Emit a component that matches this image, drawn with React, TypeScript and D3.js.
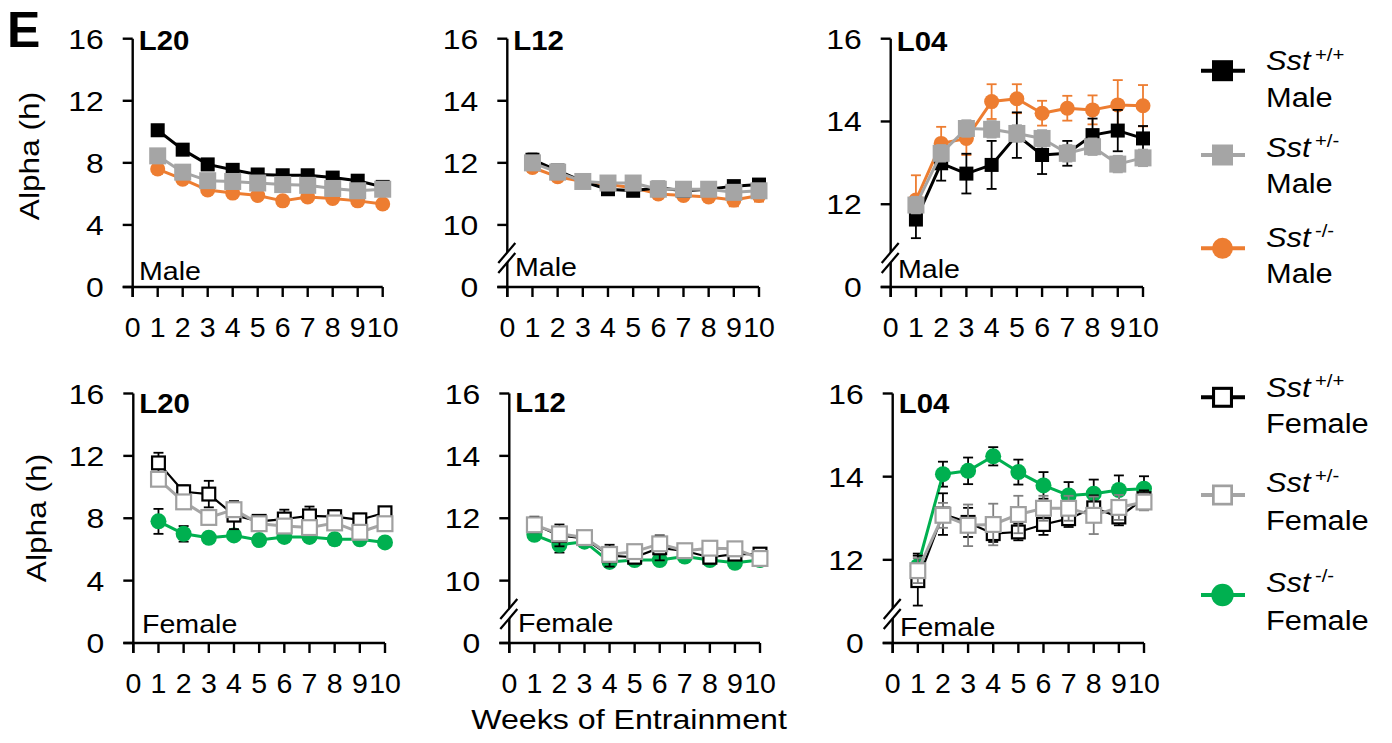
import React from 'react';
import * as d3 from 'd3';

const FONT = '"Liberation Sans", Arial, Helvetica, sans-serif';

const weeks = [1, 2, 3, 4, 5, 6, 7, 8, 9, 10];
const xTickValues = [0, 1, 2, 3, 4, 5, 6, 7, 8, 9, 10];
const xTickLabels = ['0', '1', '2', '3', '4', '5', '6', '7', '8', '9', '10'];
const lightLabels = ['L20', 'L12', 'L04'];
const genotypes = ['+/+', '+/-', '-/-'];
const sexes = ['Male', 'Female'];

// y-axis ticks
const fullTicks = [0, 4, 8, 12, 16];
const fullTickLabels = ['0', '4', '8', '12', '16'];
const l12Ticks = [8, 10, 12, 14, 16];
const l12TickLabels = ['0', '10', '12', '14', '16'];
const l04Ticks = [10, 12, 14, 16];
const l04TickLabels = ['0', '12', '14', '16'];

// ---- Male L20
const maleL20Wt = [10.1, 8.85, 7.9, 7.55, 7.25, 7.2, 7.2, 7.05, 6.85, 6.45];
const maleL20WtErr = [0.35, 0.3, 0.3, 0.25, 0.25, 0.25, 0.25, 0.25, 0.25, 0.25];
const maleL20Het = [8.45, 7.4, 6.85, 6.8, 6.7, 6.6, 6.55, 6.35, 6.2, 6.3];
const maleL20HetErr = [0.3, 0.25, 0.25, 0.25, 0.25, 0.25, 0.25, 0.25, 0.25, 0.25];
const maleL20Ko = [7.6, 6.95, 6.25, 6.05, 5.9, 5.55, 5.8, 5.7, 5.55, 5.35];
const maleL20KoErr = [0.3, 0.25, 0.25, 0.2, 0.2, 0.2, 0.2, 0.2, 0.2, 0.2];

// ---- Male L12
const maleL12Wt = [12.1, 11.75, 11.4, 11.15, 11.1, 11.2, 11.1, 11.15, 11.25, 11.3];
const maleL12WtErr = [0.2, 0.15, 0.1, 0.15, 0.15, 0.15, 0.1, 0.15, 0.15, 0.15];
const maleL12Het = [12.0, 11.7, 11.4, 11.35, 11.35, 11.15, 11.15, 11.15, 11.05, 11.1];
const maleL12HetErr = [0.15, 0.15, 0.1, 0.1, 0.1, 0.1, 0.1, 0.1, 0.1, 0.1];
const maleL12Ko = [11.85, 11.55, 11.4, 11.3, 11.2, 11.0, 10.95, 10.9, 10.8, 10.95];
const maleL12KoErr = [0.15, 0.15, 0.1, 0.1, 0.1, 0.1, 0.1, 0.15, 0.2, 0.2];

// ---- Male L04
const maleL04Wt = [11.63, 12.99, 12.74, 12.95, 13.67, 13.19, 13.23, 13.67, 13.78, 13.59];
const maleL04WtErr = [0.45, 0.42, 0.48, 0.58, 0.55, 0.46, 0.3, 0.4, 0.5, 0.3];
const maleL04Het = [11.98, 13.23, 13.83, 13.81, 13.71, 13.59, 13.23, 13.39, 12.97, 13.12];
const maleL04HetErr = [0.2, 0.2, 0.2, 0.2, 0.2, 0.2, 0.2, 0.2, 0.2, 0.2];
const maleL04Ko = [12.1, 13.47, 13.59, 14.48, 14.55, 14.2, 14.32, 14.28, 14.4, 14.38];
const maleL04KoErr = [0.6, 0.4, 0.4, 0.42, 0.35, 0.3, 0.3, 0.35, 0.6, 0.5];

// ---- Female L20
const femaleL20Wt = [11.55, 9.7, 9.55, 8.2, 7.8, 7.95, 8.15, 8.1, 7.9, 8.35];
const femaleL20WtErr = [0.65, 0.4, 0.85, 0.9, 0.4, 0.6, 0.6, 0.4, 0.3, 0.3];
const femaleL20Het = [10.5, 9.05, 8.05, 8.55, 7.65, 7.5, 7.4, 7.7, 7.1, 7.65];
const femaleL20HetErr = [0.3, 0.3, 0.3, 0.3, 0.3, 0.3, 0.3, 0.3, 0.3, 0.3];
const femaleL20Ko = [7.8, 7.0, 6.75, 6.9, 6.6, 6.8, 6.8, 6.65, 6.65, 6.45];
const femaleL20KoErr = [0.8, 0.5, 0.25, 0.3, 0.25, 0.3, 0.25, 0.35, 0.3, 0.2];

// ---- Female L12
const femaleL12Wt = [11.8, 11.45, 11.35, 10.8, 10.75, 11.05, 10.95, 10.75, 10.85, 10.85];
const femaleL12WtErr = [0.25, 0.35, 0.15, 0.35, 0.15, 0.4, 0.15, 0.2, 0.15, 0.2];
const femaleL12Het = [11.79, 11.5, 11.38, 10.84, 10.93, 11.18, 10.96, 11.04, 11.02, 10.71];
const femaleL12HetErr = [0.2, 0.2, 0.1, 0.2, 0.15, 0.2, 0.15, 0.15, 0.15, 0.15];
const femaleL12Ko = [11.47, 11.15, 11.25, 10.6, 10.66, 10.66, 10.77, 10.66, 10.57, 10.66];
const femaleL12KoErr = [0.15, 0.25, 0.1, 0.15, 0.1, 0.15, 0.1, 0.1, 0.1, 0.1];

// ---- Female L04
const femaleL04Wt = [11.5, 13.1, 12.9, 12.63, 12.67, 12.85, 12.99, 13.25, 13.03, 13.47];
const femaleL04WtErr = [0.6, 0.5, 0.35, 0.2, 0.2, 0.25, 0.2, 0.3, 0.2, 0.2];
const femaleL04Het = [11.74, 13.07, 12.83, 12.85, 13.09, 13.24, 13.24, 13.07, 13.26, 13.39];
const femaleL04HetErr = [0.3, 0.3, 0.5, 0.5, 0.45, 0.3, 0.3, 0.45, 0.3, 0.2];
const femaleL04Ko = [11.85, 14.06, 14.14, 14.49, 14.11, 13.79, 13.55, 13.59, 13.68, 13.71];
const femaleL04KoErr = [0.3, 0.3, 0.32, 0.22, 0.3, 0.32, 0.32, 0.34, 0.35, 0.3];

const BLACK = '#000000';
const GRAY = '#a5a5a5';
const GRAY_EDGE = '#a0a0a0';
const ORANGE = '#ed7d31';
const GREEN = '#00b050';

type Style = {
  kind: 'sq' | 'circle' | 'open';
  fill: string;
  stroke: string;
  line: string;
  lw: number;
  size: number;
  err: string;
};

const maleStyles: Style[] = [
  { kind: 'sq', fill: BLACK, stroke: BLACK, line: BLACK, lw: 3, size: 14, err: BLACK },
  { kind: 'sq', fill: GRAY, stroke: GRAY, line: GRAY, lw: 3, size: 17, err: GRAY },
  { kind: 'circle', fill: ORANGE, stroke: ORANGE, line: ORANGE, lw: 3, size: 15, err: ORANGE },
];
const femaleStyles: Style[] = [
  { kind: 'open', fill: '#ffffff', stroke: BLACK, line: BLACK, lw: 2.2, size: 15, err: BLACK },
  { kind: 'open', fill: '#ffffff', stroke: GRAY_EDGE, line: GRAY, lw: 3, size: 17, err: '#808080' },
  { kind: 'circle', fill: GREEN, stroke: GREEN, line: GREEN, lw: 3, size: 16, err: BLACK },
];

type Series = { vals: number[]; errs: number[]; style: Style };

type PanelSpec = {
  left: number; width: number; bottom: number; top: number;
  domain: [number, number]; ticks: number[]; tickLabels: string[];
  broken: boolean; title: string; titleBase: number;
  sex: string; sexX: number; sexBase: number;
  series: Series[]; // draw order
};

const mk = (vals: number[], errs: number[], style: Style): Series => ({ vals, errs, style });

const TOP_BOTTOM = 287;
const TOP_TOP = 38.7;
const BOT_BOTTOM = 643;
const BOT_TOP = 393.5;

const panels: PanelSpec[] = [
  {
    left: 132.7, width: 250, bottom: TOP_BOTTOM, top: TOP_TOP, domain: [0, 16],
    ticks: fullTicks, tickLabels: fullTickLabels, broken: false,
    title: lightLabels[0], titleBase: 50, sex: sexes[0], sexX: 139, sexBase: 280,
    series: [mk(maleL20Ko, maleL20KoErr, maleStyles[2]), mk(maleL20Wt, maleL20WtErr, maleStyles[0]), mk(maleL20Het, maleL20HetErr, maleStyles[1])],
  },
  {
    left: 507.3, width: 251.7, bottom: TOP_BOTTOM, top: TOP_TOP, domain: [8, 16],
    ticks: l12Ticks, tickLabels: l12TickLabels, broken: true,
    title: lightLabels[1], titleBase: 50, sex: sexes[0], sexX: 515, sexBase: 276,
    series: [mk(maleL12Ko, maleL12KoErr, maleStyles[2]), mk(maleL12Wt, maleL12WtErr, maleStyles[0]), mk(maleL12Het, maleL12HetErr, maleStyles[1])],
  },
  {
    left: 890.7, width: 252.3, bottom: TOP_BOTTOM, top: TOP_TOP, domain: [10, 16],
    ticks: l04Ticks, tickLabels: l04TickLabels, broken: true,
    title: lightLabels[2], titleBase: 51, sex: sexes[0], sexX: 898, sexBase: 278,
    series: [mk(maleL04Ko, maleL04KoErr, maleStyles[2]), mk(maleL04Wt, maleL04WtErr, maleStyles[0]), mk(maleL04Het, maleL04HetErr, maleStyles[1])],
  },
  {
    left: 133.3, width: 251.7, bottom: BOT_BOTTOM, top: BOT_TOP, domain: [0, 16],
    ticks: fullTicks, tickLabels: fullTickLabels, broken: false,
    title: lightLabels[0], titleBase: 413, sex: sexes[1], sexX: 142, sexBase: 633,
    series: [mk(femaleL20Ko, femaleL20KoErr, femaleStyles[2]), mk(femaleL20Wt, femaleL20WtErr, femaleStyles[0]), mk(femaleL20Het, femaleL20HetErr, femaleStyles[1])],
  },
  {
    left: 509.3, width: 250.7, bottom: BOT_BOTTOM, top: BOT_TOP, domain: [8, 16],
    ticks: l12Ticks, tickLabels: l12TickLabels, broken: true,
    title: lightLabels[1], titleBase: 412, sex: sexes[1], sexX: 518, sexBase: 632,
    series: [mk(femaleL12Ko, femaleL12KoErr, femaleStyles[2]), mk(femaleL12Wt, femaleL12WtErr, femaleStyles[0]), mk(femaleL12Het, femaleL12HetErr, femaleStyles[1])],
  },
  {
    left: 892.7, width: 251.3, bottom: BOT_BOTTOM, top: BOT_TOP, domain: [10, 16],
    ticks: l04Ticks, tickLabels: l04TickLabels, broken: true,
    title: lightLabels[2], titleBase: 413, sex: sexes[1], sexX: 900, sexBase: 636,
    series: [mk(femaleL04Ko, femaleL04KoErr, femaleStyles[2]), mk(femaleL04Wt, femaleL04WtErr, femaleStyles[0]), mk(femaleL04Het, femaleL04HetErr, femaleStyles[1])],
  },
];

type TxtProps = {
  x: number; y: number; size: number; sx?: number; anchor?: string; weight?: string | number;
  italic?: boolean; rot?: number; children?: React.ReactNode;
};
const Txt = ({ x, y, size, sx = 1, anchor = 'start', weight = 'normal', italic = false, rot = 0, children }: TxtProps) => (
  <text
    transform={`translate(${x},${y})${rot ? ` rotate(${rot})` : ''} scale(${sx},1)`}
    fontSize={size}
    fontFamily={FONT}
    fontWeight={weight as any}
    fontStyle={italic ? 'italic' : 'normal'}
    textAnchor={anchor as any}
    fill="#000"
  >
    {children}
  </text>
);

const Marker = ({ cx, cy, st, scale = 1 }: { cx: number; cy: number; st: Style; scale?: number }) => {
  const s = st.size * scale;
  if (st.kind === 'circle') return <circle cx={cx} cy={cy} r={s / 2} fill={st.fill} stroke="none" />;
  if (st.kind === 'sq') return <rect x={cx - s / 2} y={cy - s / 2} width={s} height={s} fill={st.fill} />;
  const sw = 2.2 * scale;
  return <rect x={cx - s / 2 + sw / 2} y={cy - s / 2 + sw / 2} width={s - sw} height={s - sw} fill={st.fill} stroke={st.stroke} strokeWidth={sw} />;
};

const Panel = ({ p }: { p: PanelSpec }) => {
  const x = d3.scaleLinear().domain([0, 10]).range([p.left, p.left + p.width]);
  const y = d3.scaleLinear().domain(p.domain).range([p.bottom, p.top]);
  const lineGen = d3.line<number>().x((_, i) => x(weeks[i])).y((v) => y(v));
  const AX = 2.4;
  return (
    <g>
      {/* series */}
      {p.series.map((s, si) => (
        <g key={si}>
          {s.vals.map((v, i) => (
            <g key={i} stroke={s.style.err} strokeWidth={1.8}>
              <line x1={x(weeks[i])} x2={x(weeks[i])} y1={y(v - s.errs[i])} y2={y(v + s.errs[i])} />
              <line x1={x(weeks[i]) - 5} x2={x(weeks[i]) + 5} y1={y(v + s.errs[i])} y2={y(v + s.errs[i])} />
              <line x1={x(weeks[i]) - 5} x2={x(weeks[i]) + 5} y1={y(v - s.errs[i])} y2={y(v - s.errs[i])} />
            </g>
          ))}
          <path d={lineGen(s.vals) || ''} fill="none" stroke={s.style.line} strokeWidth={s.style.lw} strokeLinejoin="round" />
          {s.vals.map((v, i) => (
            <Marker key={i} cx={x(weeks[i])} cy={y(v)} st={s.style} />
          ))}
        </g>
      ))}
      {/* axes */}
      <g stroke="#000" strokeWidth={AX}>
        <line x1={p.left} x2={p.left} y1={p.top} y2={p.bottom + 10} />
        <line x1={p.left - 10} x2={p.left + p.width} y1={p.bottom} y2={p.bottom} />
        {p.ticks.map((t) => (
          <line key={t} x1={p.left - 10} x2={p.left} y1={y(t)} y2={y(t)} />
        ))}
        {xTickValues.map((t) => (
          <line key={t} x1={x(t)} x2={x(t)} y1={p.bottom} y2={p.bottom + 10} />
        ))}
      </g>
      {p.broken && (
        <g>
          <polygon
            points={`${p.left - 9},${p.bottom - 14} ${p.left + 8},${p.bottom - 34} ${p.left + 8},${p.bottom - 44} ${p.left - 9},${p.bottom - 24}`}
            fill="#fff"
          />
          <line x1={p.left - 9} y1={p.bottom - 14} x2={p.left + 8} y2={p.bottom - 34} stroke="#000" strokeWidth={2.2} />
          <line x1={p.left - 9} y1={p.bottom - 24} x2={p.left + 8} y2={p.bottom - 44} stroke="#000" strokeWidth={2.2} />
        </g>
      )}
      {/* tick labels */}
      {p.ticks.map((t, i) => (
        <Txt key={t} x={p.left - 29} y={y(t) + 10} size={28.5} sx={1.12} anchor="end">
          {p.tickLabels[i]}
        </Txt>
      ))}
      {xTickValues.map((t, i) => (
        <Txt key={t} x={x(t)} y={p.bottom + 49.5} size={28.5} sx={1.0} anchor="middle">
          {xTickLabels[i]}
        </Txt>
      ))}
      <Txt x={p.left + 6} y={p.titleBase} size={28} sx={1.05} weight="bold">
        {p.title}
      </Txt>
      <Txt x={p.sexX} y={p.sexBase} size={26} sx={1.1}>
        {p.sex}
      </Txt>
    </g>
  );
};

type LegendItem = { geno: string; sex: string; style: Style; my: number; sstBase: number; sexBase: number };
const legendItems: LegendItem[] = [
  { geno: genotypes[0], sex: sexes[0], style: maleStyles[0], my: 70.7, sstBase: 70, sexBase: 106.5 },
  { geno: genotypes[1], sex: sexes[0], style: maleStyles[1], my: 155, sstBase: 156.5, sexBase: 193 },
  { geno: genotypes[2], sex: sexes[0], style: maleStyles[2], my: 248.3, sstBase: 246.7, sexBase: 283 },
  { geno: genotypes[0], sex: sexes[1], style: femaleStyles[0], my: 397.3, sstBase: 396.7, sexBase: 433.3 },
  { geno: genotypes[1], sex: sexes[1], style: femaleStyles[1], my: 495, sstBase: 491.7, sexBase: 530 },
  { geno: genotypes[2], sex: sexes[1], style: femaleStyles[2], my: 595, sstBase: 591.7, sexBase: 630 },
];

const Legend = () => (
  <g>
    {legendItems.map((it, i) => (
      <g key={i}>
        <line x1={1201} x2={1245} y1={it.my} y2={it.my} stroke={it.style.line} strokeWidth={4} />
        <Marker cx={1222.5} cy={it.my} st={it.style} scale={it.style.kind === 'circle' ? 1.4 : 21 / it.style.size} />
        <text
          transform={`translate(1266,${it.sstBase}) scale(1.1,1)`}
          fontSize={28}
          fontFamily={FONT}
          fill="#000"
        >
          <tspan fontStyle="italic">Sst</tspan>
          <tspan fontSize={18.5} dx={4} dy={-9.5}>{it.geno}</tspan>
        </text>
        <Txt x={1266} y={it.sexBase} size={28} sx={1.1}>
          {it.sex}
        </Txt>
      </g>
    ))}
  </g>
);

export default function App() {
  return (
    <svg
      width={1392}
      height={743}
      viewBox="0 0 1392 743"
      style={{ position: 'absolute', left: 0, top: 0, background: '#fff' }}
    >
      <rect x={0} y={0} width={1392} height={743} fill="#fff" />
      <Txt x={7} y={47} size={50} weight="bold">E</Txt>
      {panels.map((p, i) => (
        <Panel key={i} p={p} />
      ))}
      <Txt x={39} y={156} size={28} sx={1.13} anchor="middle" rot={-90}>Alpha (h)</Txt>
      <Txt x={46} y={518} size={28} sx={1.13} anchor="middle" rot={-90}>Alpha (h)</Txt>
      <Txt x={629} y={729} size={27.5} sx={1.17} anchor="middle">Weeks of Entrainment</Txt>
      <Legend />
    </svg>
  );
}
